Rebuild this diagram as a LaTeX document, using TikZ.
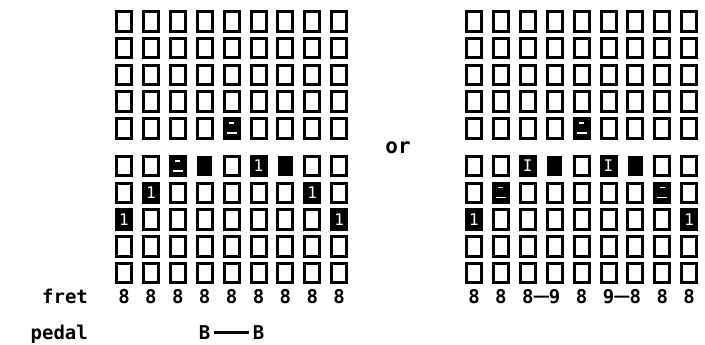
\documentclass[tikz,border=0pt]{standalone}
\usepackage{fontspec}
\setmonofont{DejaVu Sans Mono}
\usetikzlibrary{positioning}

\tikzset{
    cell/.style={draw, line width=3pt, minimum width=15pt, minimum height=19.5pt, inner sep=0pt},
    held/.style={cell, fill=black},
    stub/.style={draw=none, fill=black, minimum width=15pt, minimum height=20pt},
    one/.style={held, text=white, font=\ttfamily\fontsize{16}{16}\selectfont, execute at begin node={1}},
    bar/.style={held, text=white, font=\ttfamily\fontsize{16}{16}\selectfont, execute at begin node={I}},
    dashes/.style={held, path picture={
        \draw[white, line width=1.5pt] ([xshift=-2.5pt,yshift=-4.5pt]path picture bounding box.north) -- ++(5,0);
        \draw[white, line width=1.5pt] ([xshift=-5pt,yshift=5pt]path picture bounding box.south) -- ++(10,0);}},
    txt/.style={font=\ttfamily\bfseries\fontsize{19}{19}\selectfont, inner sep=0pt},
    tie/.style={line width=2.2pt},
    % filled cells, left grid
    L-5-5/.style={dashes}, L-6-3/.style={dashes}, L-6-4/.style={stub}, L-6-6/.style={one}, L-6-7/.style={stub},
    L-7-2/.style={one}, L-7-8/.style={one}, L-8-1/.style={one}, L-8-9/.style={one},
    % filled cells, right grid
    R-5-5/.style={dashes}, R-6-3/.style={bar}, R-6-4/.style={stub}, R-6-6/.style={bar}, R-6-7/.style={stub},
    R-7-2/.style={dashes}, R-7-8/.style={dashes}, R-8-1/.style={one}, R-8-9/.style={one}
}

\begin{document}
\begin{tikzpicture}[x=1pt, y=-1pt]
\path[fill=white] (0,0) rectangle (705,345);
% the two grids
\foreach \g/\x in {L/97.1, R/447.1}
  \foreach \r in {1,...,10}
    \foreach \c in {1,...,9}
      \node[cell, \g-\r-\c/.try] (\g-\r-\c) at ({\x+26.9*\c}, {-5.25+26.75*\r+10.75*(\r>5)}) {};
\node[txt, font=\ttfamily\bfseries\fontsize{21}{21}\selectfont] (or) at (398,148) {or};
% fret numbers
\foreach \c in {1,...,9}
  \node[txt, below=5pt of L-10-\c] (fL\c) {8};
\foreach \c/\n in {1/8,2/8,3/8,4/9,5/8,6/9,7/8,8/8,9/8}
  \node[txt, below=5pt of R-10-\c] (fR\c) {\n};
\node[txt, base left=30pt of fL1] (fret) {fret};
\node[txt, anchor=base east] (pedal) at ([yshift=-36pt]fret.base east) {pedal};
\node[txt, anchor=base] (pB1) at (L-10-4 |- pedal.base) {B};
\node[txt, anchor=base] (pB2) at (L-10-6 |- pedal.base) {B};
\draw[tie, line width=2.6pt, shorten <=3pt, shorten >=4pt] (pB1) -- (pB2);
\draw[tie] (fR3) -- (fR4);
\draw[tie] (fR6) -- (fR7);
\end{tikzpicture}
\end{document}
